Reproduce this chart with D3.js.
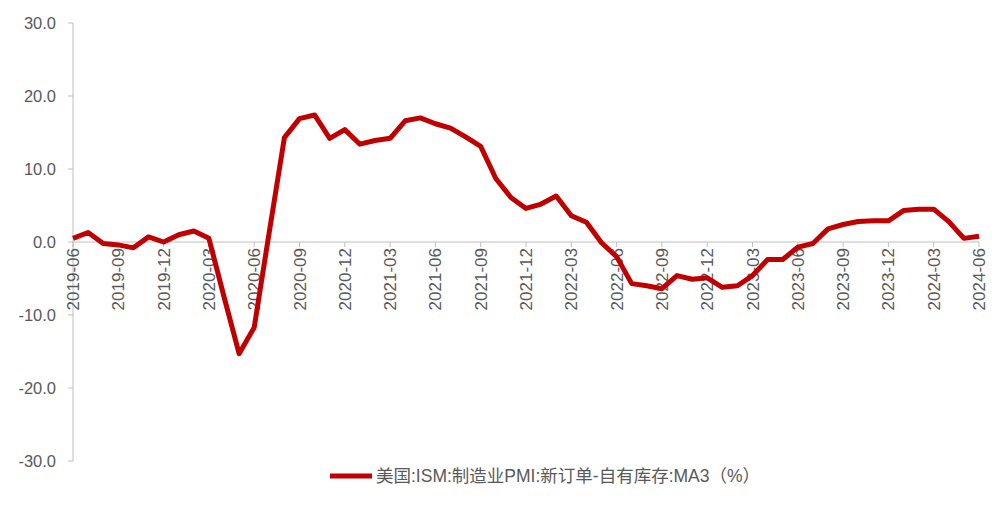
<!DOCTYPE html><html><head><meta charset="utf-8"><script src="https://cdn.jsdelivr.net/npm/d3@7"></script>
<style>body{margin:0;background:#fff}text{font-family:"Liberation Sans","Noto Sans CJK SC",sans-serif;fill:#595959}</style></head><body><svg id="c" width="1003" height="532"></svg><script>
const months=d3.range(61).map(i=>{const m=(5+i)%12+1,y=2019+Math.floor((5+i)/12);return y+"-"+String(m).padStart(2,"0");});
const values=[0.5,1.3,-0.2,-0.4,-0.8,0.7,0.0,1.0,1.5,0.5,-7.5,-15.3,-11.7,1.4,14.3,16.9,17.4,14.2,15.4,13.4,13.9,14.2,16.6,17.0,16.2,15.6,14.4,13.1,8.7,6.1,4.6,5.2,6.3,3.6,2.7,-0.1,-2.0,-5.7,-6.0,-6.4,-4.6,-5.1,-4.9,-6.2,-6.0,-4.6,-2.4,-2.4,-0.7,-0.2,1.8,2.4,2.8,2.9,2.9,4.3,4.5,4.5,2.8,0.5,0.8];
const yTicks=[30,20,10,0,-10,-20,-30];
const legendLabel="美国:ISM:制造业PMI:新订单-自有库存:MA3（%）";
const svg=d3.select("#c");
const x=d3.scaleLinear().domain([0,60]).range([73,979]);
const y=d3.scaleLinear().domain([-30,30]).range([461,23]);
const g=svg.append("g");
g.append("line").attr("x1",73).attr("x2",73).attr("y1",y(30)).attr("y2",y(-30)).attr("stroke","#bfbfbf");
yTicks.forEach(v=>{g.append("line").attr("x1",68).attr("x2",73).attr("y1",y(v)).attr("y2",y(v)).attr("stroke","#bfbfbf");
g.append("text").attr("x",56).attr("y",y(v)+6).attr("text-anchor","end").attr("font-size",16.5).text(v.toFixed(1));});
g.append("line").attr("x1",73).attr("x2",979).attr("y1",y(0)).attr("y2",y(0)).attr("stroke","#bfbfbf");
months.forEach((m,i)=>{if(i%3)return;const xx=x(i);
g.append("line").attr("x1",xx).attr("x2",xx).attr("y1",y(0)).attr("y2",y(0)+5).attr("stroke","#bfbfbf");
g.append("text").attr("transform",`translate(${xx+6},${y(0)+6}) rotate(-90)`).attr("text-anchor","end").attr("font-size",17).text(m);});
svg.append("path").datum(values).attr("fill","none").attr("stroke","#c00000").attr("stroke-width",5).attr("stroke-linejoin","round")
.attr("d",d3.line().x((d,i)=>x(i)).y(d=>y(d)));
svg.append("line").attr("x1",330).attr("x2",372).attr("y1",476).attr("y2",476).attr("stroke","#c00000").attr("stroke-width",5);
svg.append("text").attr("x",376).attr("y",482).attr("font-size",17.5).text(legendLabel);
</script></body></html>
